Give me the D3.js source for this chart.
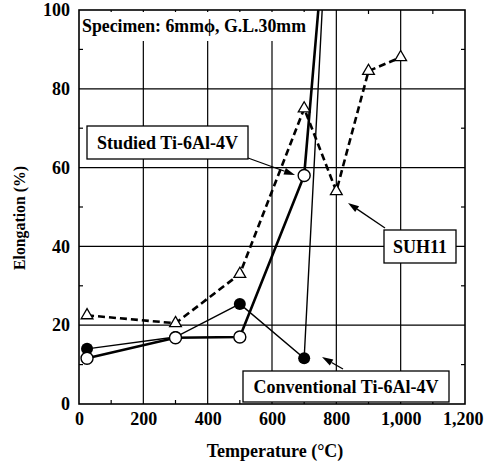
<!DOCTYPE html>
<html lang="en">
<head>
    <meta charset="UTF-8">
    <title>Elongation vs temperature</title>
    <style>
        body { margin: 0; background: #fff; }
    </style>
</head>
<body>
    <div class="canvas"></div>
    <script src="https://d3js.org/d3.v7.min.js"></script>
    <script>
        // temperatures (deg C) and elongation (%)
        const suhTemp = [25, 300, 500, 700, 800, 900, 1000];
        const suhElong = [22.5, 20.5, 33, 75, 54, 84.5, 88];

        const studiedTemp = [25, 300, 500, 700];
        const studiedElong = [11.6, 16.8, 17, 58];
        const studiedTop = [744, 100];   // line runs off the top of the plot

        const convTemp = [25, 300, 500, 700];
        const convElong = [14, 17, 25.4, 11.6];
        const convTop = [756, 100];

        const xTicks = [0, 200, 400, 600, 800, 1000, 1200];
        const yTicks = [0, 20, 40, 60, 80, 100];

        const FONT = "'Liberation Serif', 'Times New Roman', serif";

        const W = 484, H = 465;
        const m = { left: 79, top: 10, right: 19, bottom: 61 };
        const pw = W - m.left - m.right, ph = H - m.top - m.bottom;

        const svg = d3.select('.canvas').append('svg')
            .attr('width', W).attr('height', H);

        const x = d3.scaleLinear().domain([0, 1200]).range([0, pw]);
        const y = d3.scaleLinear().domain([0, 100]).range([ph, 0]);

        const graph = svg.append('g').attr('transform', `translate(${m.left},${m.top})`);

        const label = (sel, size) => sel.attr('font-family', FONT).attr('font-weight', 'bold')
            .attr('font-size', size).attr('fill', '#000');

        // grid
        graph.append('g').selectAll('line').data(xTicks.slice(1, -1)).enter().append('line')
            .attr('x1', d => x(d)).attr('x2', d => x(d)).attr('y1', 0).attr('y2', ph)
            .attr('stroke', '#000').attr('stroke-width', 1.2);
        graph.append('g').selectAll('line').data(yTicks.slice(1, -1)).enter().append('line')
            .attr('x1', 0).attr('x2', pw).attr('y1', d => y(d)).attr('y2', d => y(d))
            .attr('stroke', '#000').attr('stroke-width', 1.2);

        // minor ticks, inward on all sides
        const xMinor = d3.range(100, 1200, 200);
        const yMinor = d3.range(10, 100, 20);
        const tl = 4;
        const minor = graph.append('g').attr('stroke', '#000').attr('stroke-width', 1.2);
        xMinor.forEach(v => {
            minor.append('line').attr('x1', x(v)).attr('x2', x(v)).attr('y1', ph).attr('y2', ph - tl);
            minor.append('line').attr('x1', x(v)).attr('x2', x(v)).attr('y1', 0).attr('y2', tl);
        });
        yMinor.forEach(v => {
            minor.append('line').attr('x1', 0).attr('x2', tl).attr('y1', y(v)).attr('y2', y(v));
            minor.append('line').attr('x1', pw).attr('x2', pw - tl).attr('y1', y(v)).attr('y2', y(v));
        });

        // specimen note (white background hides grid)
        graph.append('rect').attr('x', 2).attr('y', 2).attr('width', 229).attr('height', 29).attr('fill', '#fff');
        graph.append('text').attr('x', 3).attr('y', 22)
            .call(label, 17.8).text('Specimen: 6mm\u03d5, G.L.30mm');

        // frame
        graph.append('rect').attr('width', pw).attr('height', ph)
            .attr('fill', 'none').attr('stroke', '#000').attr('stroke-width', 1.6);

        // axes labels
        const xAxis = d3.axisBottom(x).tickValues(xTicks).tickSize(0).tickPadding(8)
            .tickFormat(d3.format(','));
        graph.append('g').attr('transform', `translate(0,${ph})`).call(xAxis)
            .call(g => g.select('.domain').remove())
            .selectAll('text').call(label, 18)
            .filter(d => d === 1200).attr('text-anchor', 'end').attr('dx', m.right - 1);
        const yAxis = d3.axisLeft(y).tickValues(yTicks).tickSize(0).tickPadding(9);
        graph.append('g').call(yAxis)
            .call(g => g.select('.domain').remove())
            .selectAll('text').call(label, 18);

        svg.append('text').attr('x', 275).attr('y', 457)
            .attr('text-anchor', 'middle').call(label, 18).text('Temperature (\u00b0C)');
        svg.append('text').attr('transform', 'translate(25,218) rotate(-90)')
            .attr('text-anchor', 'middle').call(label, 16)
            .attr('textLength', 104).attr('lengthAdjust', 'spacingAndGlyphs')
            .text('Elongation (%)');

        const line = d3.line().x(d => x(d[0])).y(d => y(d[1]));
        const suh = suhTemp.map((t, i) => [t, suhElong[i]]);
        const studied = studiedTemp.map((t, i) => [t, studiedElong[i]]);
        const conv = convTemp.map((t, i) => [t, convElong[i]]);

        graph.append('path').attr('d', line(suh)).attr('fill', 'none')
            .attr('stroke', '#000').attr('stroke-width', 2.6).attr('stroke-dasharray', '7,4');
        graph.append('path').attr('d', line(conv.concat([convTop]))).attr('fill', 'none')
            .attr('stroke', '#000').attr('stroke-width', 1.4);
        graph.append('path').attr('d', line(studied.concat([studiedTop]))).attr('fill', 'none')
            .attr('stroke', '#000').attr('stroke-width', 2.6);

        // markers
        const tri = d3.symbol().type(d3.symbolTriangle).size(60);
        graph.selectAll('.tri').data(suh).enter().append('path')
            .attr('transform', d => `translate(${x(d[0])},${y(d[1])})`)
            .attr('d', tri).attr('fill', '#fff').attr('stroke', '#000').attr('stroke-width', 1.3);
        graph.selectAll('.fc').data(conv).enter().append('circle')
            .attr('cx', d => x(d[0])).attr('cy', d => y(d[1])).attr('r', 6).attr('fill', '#000');
        graph.selectAll('.oc').data(studied).enter().append('circle')
            .attr('cx', d => x(d[0])).attr('cy', d => y(d[1])).attr('r', 6)
            .attr('fill', '#fff').attr('stroke', '#000').attr('stroke-width', 1.4);

        // labelled boxes with arrows (pixel positions)
        const notes = [
            { text: 'Studied Ti-6Al-4V', box: [87, 126, 161, 33], from: [248, 158], to: [295, 175] },
            { text: 'SUH11', box: [384, 230, 72, 33], from: [385, 228], to: [348, 203] },
            { text: 'Conventional Ti-6Al-4V', box: [243, 371, 206, 31], from: [343, 369], to: [322, 357] }
        ];
        notes.forEach(n => {
            const dx = n.to[0] - n.from[0], dy = n.to[1] - n.from[1];
            const len = Math.hypot(dx, dy), ux = dx / len, uy = dy / len;
            const hl = 11, hw = 3.5;
            const bx = n.to[0] - ux * hl, by = n.to[1] - uy * hl;
            svg.append('line').attr('x1', n.from[0]).attr('y1', n.from[1]).attr('x2', bx).attr('y2', by)
                .attr('stroke', '#000').attr('stroke-width', 1.3);
            svg.append('path')
                .attr('d', `M${n.to[0]},${n.to[1]}L${bx - uy * hw},${by + ux * hw}L${bx + uy * hw},${by - ux * hw}Z`)
                .attr('fill', '#000');
            svg.append('rect').attr('x', n.box[0]).attr('y', n.box[1]).attr('width', n.box[2]).attr('height', n.box[3])
                .attr('fill', '#fff').attr('stroke', '#000').attr('stroke-width', 1.3);
            svg.append('text').attr('x', n.box[0] + n.box[2] / 2).attr('y', n.box[1] + n.box[3] / 2 + 6)
                .attr('text-anchor', 'middle').call(label, 18).text(n.text);
        });
    </script>
</body>
</html>
